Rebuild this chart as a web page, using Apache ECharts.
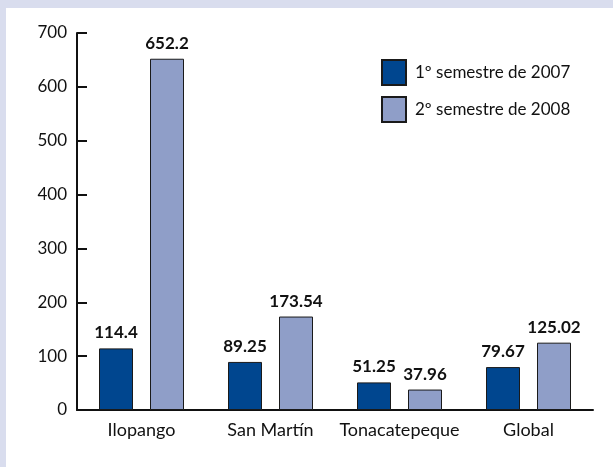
<!DOCTYPE html>
<html>
<head>
<meta charset="utf-8">
<script src="https://cdn.jsdelivr.net/npm/echarts@6/dist/echarts.min.js"></script>
<style>
  html, body { margin: 0; padding: 0; background: #d9ddee; }
  #chart { position: absolute; left: 6px; top: 8px; width: 607px; height: 459px; background: #fff; }
</style>
</head>
<body>
<div id="chart"></div>
<script>
var categories = ['Ilopango', 'San Martín', 'Tonacatepeque', 'Global']
var sem2007 = [114.4, 89.25, 51.25, 79.67]
var sem2008 = [652.2, 173.54, 37.96, 125.02]
var seriesNames = ['1º semestre de 2007', '2º semestre de 2008']
var yTicks = [0, 100, 200, 300, 400, 500, 600, 700]

var chart = echarts.init(document.getElementById('chart'))
var font = 'Lato, "DejaVu Sans", sans-serif'

var labelStyle = {
  show: true,
  position: 'top',
  distance: 7,
  color: '#111',
  fontFamily: font,
  fontWeight: 'bold',
  fontSize: 17,
  formatter: function (p) { return String(p.value) }
}

var option = {
  animation: false,
  textStyle: { fontFamily: font },
  grid: { left: 71, right: 20, top: 25, bottom: 57 },
  legend: {
    left: 370,
    top: 46,
    orient: 'vertical',
    icon: 'rect',
    itemWidth: 24,
    itemHeight: 25,
    itemGap: 10,
    textStyle: { color: '#111', fontSize: 17, fontFamily: font, padding: [0, 0, 0, 4] },
    data: seriesNames
  },
  xAxis: {
    type: 'category',
    data: categories,
    axisLine: { lineStyle: { color: '#111', width: 2 } },
    axisTick: { show: false },
    axisLabel: { interval: 0, color: '#111', fontSize: 18, margin: 11, fontFamily: font }
  },
  yAxis: {
    type: 'value',
    min: yTicks[0],
    max: yTicks[yTicks.length - 1],
    interval: 100,
    axisLine: { show: true, lineStyle: { color: '#111', width: 2 } },
    axisTick: { show: true, inside: true, length: 10, lineStyle: { color: '#111', width: 2 } },
    splitLine: { show: false },
    axisLabel: { color: '#111', fontSize: 17, margin: 10, fontFamily: font }
  },
  series: [
    {
      name: seriesNames[0],
      type: 'bar',
      data: sem2007,
      barWidth: 34,
      barGap: '50%',
      itemStyle: { color: '#00468f', borderColor: '#1a1a1a', borderWidth: 1 },
      label: labelStyle
    },
    {
      name: seriesNames[1],
      type: 'bar',
      data: sem2008,
      barWidth: 34,
      barGap: '50%',
      itemStyle: { color: '#8f9ec8', borderColor: '#1a1a1a', borderWidth: 1 },
      label: labelStyle
    }
  ]
}
chart.setOption(option)
</script>
</body>
</html>
